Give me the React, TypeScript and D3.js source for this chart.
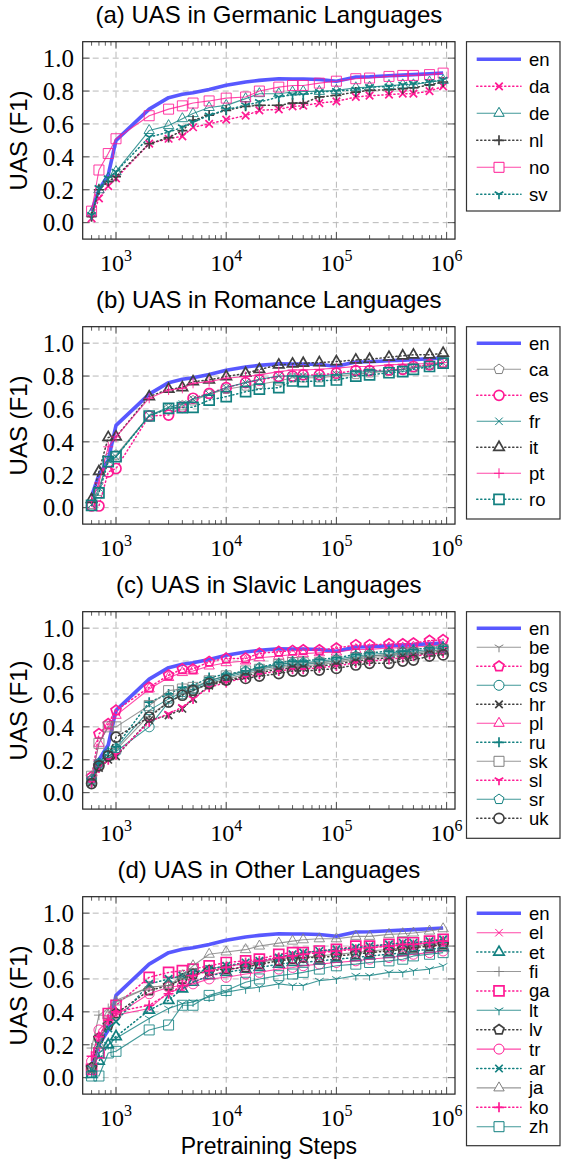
import React from "react";
import * as d3 from "d3";

// ---------- data ----------
const steps = [600, 700, 850, 1000, 2000, 3000, 4000, 5000, 7000, 10000, 15000, 20000, 30000, 40000, 50000, 70000, 100000, 150000, 200000, 300000, 400000, 500000, 700000, 930000];

const en = [0.07, 0.2, 0.29, 0.5, 0.69, 0.76, 0.78, 0.79, 0.81, 0.835, 0.855, 0.865, 0.875, 0.873, 0.873, 0.87, 0.86, 0.885, 0.887, 0.893, 0.897, 0.9, 0.905, 0.91];

// Germanic
const da = [0.026, 0.147, 0.222, 0.269, 0.48, 0.51, 0.525, 0.58, 0.6, 0.626, 0.65, 0.683, 0.689, 0.707, 0.711, 0.727, 0.737, 0.764, 0.772, 0.778, 0.784, 0.784, 0.8, 0.828];
const de = [0.057, 0.2, 0.27, 0.31, 0.56, 0.59, 0.632, 0.663, 0.7, 0.713, 0.754, 0.784, 0.784, 0.794, 0.798, 0.798, 0.804, 0.82, 0.824, 0.834, 0.838, 0.838, 0.855, 0.865];
const nl = [0.036, 0.2, 0.25, 0.28, 0.48, 0.517, 0.56, 0.622, 0.653, 0.683, 0.707, 0.713, 0.713, 0.727, 0.727, 0.764, 0.774, 0.794, 0.804, 0.808, 0.814, 0.82, 0.838, 0.855];
const no = [0.07, 0.32, 0.42, 0.51, 0.65, 0.69, 0.71, 0.727, 0.74, 0.757, 0.764, 0.8, 0.824, 0.834, 0.834, 0.848, 0.86, 0.875, 0.879, 0.889, 0.895, 0.895, 0.9, 0.909];
const sv = [0.046, 0.21, 0.27, 0.31, 0.52, 0.55, 0.58, 0.61, 0.652, 0.687, 0.713, 0.733, 0.764, 0.778, 0.778, 0.794, 0.8, 0.808, 0.824, 0.828, 0.838, 0.844, 0.855, 0.869];

// Romance
const ca = [0.02, 0.1, 0.3, 0.32, 0.56, 0.6, 0.62, 0.65, 0.69, 0.72, 0.74, 0.75, 0.77, 0.79, 0.79, 0.79, 0.8, 0.81, 0.82, 0.83, 0.84, 0.85, 0.87, 0.88];
const es = [0.01, 0.01, 0.217, 0.238, 0.557, 0.563, 0.61, 0.665, 0.695, 0.73, 0.76, 0.776, 0.797, 0.8, 0.807, 0.807, 0.817, 0.833, 0.833, 0.837, 0.841, 0.858, 0.868, 0.882];
const fr = [0.02, 0.12, 0.29, 0.31, 0.56, 0.61, 0.63, 0.66, 0.69, 0.73, 0.76, 0.78, 0.8, 0.8, 0.8, 0.8, 0.81, 0.82, 0.83, 0.83, 0.84, 0.85, 0.86, 0.88];
const it = [0.05, 0.22, 0.427, 0.43, 0.675, 0.72, 0.73, 0.766, 0.776, 0.797, 0.817, 0.84, 0.868, 0.874, 0.878, 0.882, 0.888, 0.898, 0.902, 0.915, 0.923, 0.929, 0.929, 0.939];
const pt = [0.04, 0.15, 0.37, 0.43, 0.665, 0.715, 0.725, 0.756, 0.766, 0.787, 0.797, 0.807, 0.827, 0.837, 0.837, 0.841, 0.848, 0.858, 0.858, 0.868, 0.872, 0.872, 0.878, 0.882];
const ro = [0.014, 0.09, 0.28, 0.31, 0.557, 0.604, 0.608, 0.61, 0.654, 0.675, 0.705, 0.72, 0.73, 0.77, 0.766, 0.77, 0.776, 0.8, 0.807, 0.82, 0.827, 0.841, 0.858, 0.878];

// Slavic
const be = [0.06, 0.16, 0.22, 0.26, 0.47, 0.55, 0.6, 0.62, 0.66, 0.69, 0.72, 0.74, 0.76, 0.77, 0.77, 0.78, 0.79, 0.81, 0.82, 0.83, 0.84, 0.84, 0.85, 0.86];
const bg = [0.096, 0.357, 0.418, 0.5, 0.64, 0.714, 0.751, 0.751, 0.796, 0.816, 0.816, 0.847, 0.857, 0.863, 0.867, 0.867, 0.878, 0.898, 0.898, 0.904, 0.904, 0.908, 0.924, 0.929];
const cs = [0.07, 0.17, 0.22, 0.25, 0.4, 0.55, 0.6, 0.62, 0.67, 0.7, 0.73, 0.75, 0.77, 0.78, 0.78, 0.79, 0.8, 0.82, 0.83, 0.84, 0.845, 0.85, 0.86, 0.87];
const hr = [0.06, 0.15, 0.2, 0.22, 0.44, 0.47, 0.51, 0.57, 0.65, 0.68, 0.71, 0.73, 0.75, 0.76, 0.76, 0.77, 0.78, 0.8, 0.81, 0.82, 0.83, 0.835, 0.85, 0.86];
const pl = [0.08, 0.3, 0.4, 0.47, 0.63, 0.7, 0.73, 0.74, 0.77, 0.79, 0.8, 0.82, 0.83, 0.84, 0.845, 0.85, 0.855, 0.87, 0.87, 0.88, 0.88, 0.885, 0.89, 0.9];
const ru = [0.08, 0.18, 0.25, 0.28, 0.55, 0.6, 0.64, 0.65, 0.7, 0.72, 0.74, 0.76, 0.79, 0.8, 0.8, 0.81, 0.82, 0.84, 0.85, 0.86, 0.86, 0.87, 0.88, 0.89];
const sk = [0.1, 0.3, 0.4, 0.4, 0.53, 0.62, 0.63, 0.64, 0.68, 0.71, 0.74, 0.75, 0.78, 0.79, 0.79, 0.79, 0.8, 0.82, 0.83, 0.84, 0.85, 0.85, 0.86, 0.87];
const sl = [0.06, 0.15, 0.2, 0.23, 0.43, 0.48, 0.52, 0.57, 0.64, 0.67, 0.7, 0.72, 0.74, 0.75, 0.75, 0.76, 0.77, 0.79, 0.8, 0.81, 0.82, 0.83, 0.84, 0.85];
const sr = [0.08, 0.18, 0.24, 0.27, 0.5, 0.57, 0.61, 0.63, 0.68, 0.71, 0.74, 0.76, 0.78, 0.79, 0.79, 0.8, 0.81, 0.83, 0.84, 0.85, 0.855, 0.86, 0.87, 0.88];
const uk = [0.055, 0.163, 0.224, 0.337, 0.46, 0.551, 0.592, 0.622, 0.663, 0.684, 0.694, 0.708, 0.724, 0.739, 0.739, 0.745, 0.755, 0.776, 0.786, 0.786, 0.8, 0.806, 0.83, 0.837];

// Other
const el = [0.04, 0.25, 0.36, 0.38, 0.42, 0.52, 0.54, 0.58, 0.62, 0.65, 0.68, 0.7, 0.73, 0.75, 0.76, 0.77, 0.77, 0.79, 0.79, 0.8, 0.81, 0.81, 0.82, 0.83];
const et = [0.02, 0.1, 0.2, 0.25, 0.41, 0.47, 0.54, 0.58, 0.62, 0.64, 0.66, 0.67, 0.69, 0.7, 0.7, 0.71, 0.72, 0.73, 0.74, 0.75, 0.76, 0.77, 0.78, 0.79];
const fi = [0.18, 0.38, 0.42, 0.47, 0.55, 0.56, 0.6, 0.62, 0.66, 0.68, 0.69, 0.7, 0.72, 0.73, 0.73, 0.74, 0.75, 0.76, 0.77, 0.78, 0.79, 0.8, 0.81, 0.82];
const ga = [0.05, 0.15, 0.39, 0.44, 0.61, 0.64, 0.65, 0.66, 0.68, 0.7, 0.71, 0.72, 0.75, 0.76, 0.76, 0.77, 0.78, 0.8, 0.8, 0.81, 0.82, 0.82, 0.83, 0.84];
const lt = [0.03, 0.15, 0.2, 0.24, 0.36, 0.42, 0.45, 0.46, 0.49, 0.52, 0.54, 0.55, 0.57, 0.56, 0.56, 0.59, 0.6, 0.62, 0.62, 0.64, 0.64, 0.65, 0.66, 0.68];
const lv = [0.06, 0.24, 0.32, 0.39, 0.53, 0.56, 0.6, 0.63, 0.65, 0.66, 0.67, 0.69, 0.71, 0.72, 0.73, 0.73, 0.74, 0.75, 0.76, 0.77, 0.78, 0.79, 0.8, 0.81];
const tr = [0.1, 0.29, 0.35, 0.38, 0.51, 0.55, 0.56, 0.57, 0.6, 0.61, 0.63, 0.64, 0.66, 0.67, 0.68, 0.69, 0.7, 0.71, 0.72, 0.73, 0.74, 0.75, 0.76, 0.77];
const ar = [0.05, 0.2, 0.3, 0.34, 0.57, 0.6, 0.62, 0.64, 0.66, 0.68, 0.7, 0.71, 0.73, 0.75, 0.76, 0.77, 0.78, 0.79, 0.8, 0.81, 0.82, 0.82, 0.83, 0.84];
const ja = [0.05, 0.2, 0.38, 0.46, 0.55, 0.56, 0.62, 0.68, 0.75, 0.764, 0.778, 0.8, 0.818, 0.83, 0.838, 0.844, 0.844, 0.859, 0.859, 0.871, 0.875, 0.879, 0.891, 0.905];
const ko = [0.13, 0.25, 0.35, 0.4, 0.44, 0.51, 0.56, 0.62, 0.65, 0.67, 0.7, 0.71, 0.73, 0.74, 0.75, 0.76, 0.77, 0.78, 0.79, 0.8, 0.81, 0.81, 0.82, 0.83];
const zh = [0.01, 0.01, 0.15, 0.16, 0.29, 0.32, 0.44, 0.44, 0.5, 0.53, 0.58, 0.6, 0.62, 0.63, 0.64, 0.66, 0.68, 0.69, 0.7, 0.71, 0.72, 0.74, 0.75, 0.76];

const panelTitles = [
  "(a) UAS in Germanic Languages",
  "(b) UAS in Romance Languages",
  "(c) UAS in Slavic Languages",
  "(d) UAS in Other Languages",
];
const panelLangs = [
  ["en", "da", "de", "nl", "no", "sv"],
  ["en", "ca", "es", "fr", "it", "pt", "ro"],
  ["en", "be", "bg", "cs", "hr", "pl", "ru", "sk", "sl", "sr", "uk"],
  ["en", "el", "et", "fi", "ga", "lt", "lv", "tr", "ar", "ja", "ko", "zh"],
];
const yTicks = [0, 0.2, 0.4, 0.6, 0.8, 1.0];
const xMajor = [1e3, 1e4, 1e5, 1e6];
const xExp = ["3", "4", "5", "6"];

const values: Record<string, number[]> = {
  en, da, de, nl, no, sv, ca, es, fr, it, pt, ro, be, bg, cs, hr, pl, ru, sk, sl, sr, uk,
  el, et, fi, ga, lt, lv, tr, ar, ja, ko, zh,
};

// ---------- styles ----------
const PINK = "#ff1a94";
const TEAL = "#128080";
const GRAY = "#7f7f7f";
const DARK = "#404040";
const BLUE = "#4f4fff";

type Sty = { color: string; dotted: boolean; marker: string };
const styleOf: Record<string, Sty> = {
  en: { color: BLUE, dotted: false, marker: "none" },
  da: { color: PINK, dotted: true, marker: "x" },
  de: { color: TEAL, dotted: false, marker: "tri" },
  nl: { color: DARK, dotted: true, marker: "plus" },
  no: { color: PINK, dotted: false, marker: "square" },
  sv: { color: TEAL, dotted: true, marker: "y" },
  ca: { color: GRAY, dotted: false, marker: "pent" },
  es: { color: PINK, dotted: true, marker: "circle" },
  fr: { color: TEAL, dotted: false, marker: "x" },
  it: { color: DARK, dotted: true, marker: "tri" },
  pt: { color: PINK, dotted: false, marker: "plus" },
  ro: { color: TEAL, dotted: true, marker: "square" },
  be: { color: GRAY, dotted: false, marker: "y" },
  bg: { color: PINK, dotted: true, marker: "pent" },
  cs: { color: TEAL, dotted: false, marker: "circle" },
  hr: { color: DARK, dotted: true, marker: "x" },
  pl: { color: PINK, dotted: false, marker: "tri" },
  ru: { color: TEAL, dotted: true, marker: "plus" },
  sk: { color: GRAY, dotted: false, marker: "square" },
  sl: { color: PINK, dotted: true, marker: "y" },
  sr: { color: TEAL, dotted: false, marker: "pent" },
  uk: { color: DARK, dotted: true, marker: "circle" },
  el: { color: PINK, dotted: false, marker: "x" },
  et: { color: TEAL, dotted: true, marker: "tri" },
  fi: { color: GRAY, dotted: false, marker: "plus" },
  ga: { color: PINK, dotted: true, marker: "square" },
  lt: { color: TEAL, dotted: false, marker: "y" },
  lv: { color: DARK, dotted: true, marker: "pent" },
  tr: { color: PINK, dotted: false, marker: "circle" },
  ar: { color: TEAL, dotted: true, marker: "x" },
  ja: { color: GRAY, dotted: false, marker: "tri" },
  ko: { color: PINK, dotted: true, marker: "plus" },
  zh: { color: TEAL, dotted: false, marker: "square" },
};

// ---------- layout ----------
const W = 561;
const H = 1162;
const plotLeft = 82.7;
const plotRight = 455;
const plotH = 197.4;
const panelTop = [41.7, 326.7, 611.7, 896.7];
const legendLeft = 466.5;
const legendRight = 560;
const legendFirst = [17.6, 16.6, 16.6, 16.6];
const legendGap = [27, 26, 19, 19.4];
const legendPadBottom = [16.7, 19.7, 20, 19];
const SANS = "'Liberation Sans', Arial, sans-serif";
const SERIF = "'Liberation Serif', 'Times New Roman', serif";
const MR = 5;

function markerPath(kind: string, r: number): string {
  switch (kind) {
    case "square":
      return `M${-r},${-r}H${r}V${r}H${-r}Z`;
    case "circle":
      return `M${r},0A${r},${r} 0 1 1 ${-r},0A${r},${r} 0 1 1 ${r},0Z`;
    case "tri": {
      const R = r * 1.2;
      const c = Math.cos(Math.PI / 6) * R;
      return `M0,${-R}L${c},${R / 2}L${-c},${R / 2}Z`;
    }
    case "pent": {
      const R = r * 1.05;
      const pts = d3.range(5).map((i) => {
        const a = -Math.PI / 2 + (i * 2 * Math.PI) / 5;
        return [R * Math.cos(a), R * Math.sin(a)];
      });
      return "M" + pts.map((p) => p.join(",")).join("L") + "Z";
    }
    case "x": {
      const a = r * 0.75;
      return `M${-a},${-a}L${a},${a}M${-a},${a}L${a},${-a}`;
    }
    case "plus":
      return `M${-r},0H${r}M0,${-r}V${r}`;
    case "y": {
      const a1 = (-150 * Math.PI) / 180;
      const a2 = (-30 * Math.PI) / 180;
      return `M0,0L${r * Math.cos(a1)},${r * Math.sin(a1)}M0,0L${r * Math.cos(a2)},${r * Math.sin(a2)}M0,0L0,${r}`;
    }
    default:
      return "";
  }
}

function Panel({ idx }: { idx: number }) {
  const top = panelTop[idx];
  const bottom = top + plotH;
  const x = d3.scaleLog().domain([498.5, 1192000]).range([plotLeft, plotRight]);
  const y = d3.scaleLinear().domain([-0.1, 1.1]).range([bottom, top]);
  const langs = panelLangs[idx];

  const minor: number[] = [];
  for (let k = 2; k <= 6; k++) {
    for (let m = 2; m <= 9; m++) {
      const v = m * Math.pow(10, k);
      if (v > 500 && v < 1190000) minor.push(v);
    }
  }

  const line = d3
    .line<number>()
    .x((_, i) => x(steps[i]))
    .y((d) => y(d));

  const nRows = langs.length;
  const legBottom = top + legendFirst[idx] + (nRows - 1) * legendGap[idx] + legendPadBottom[idx];

  return (
    <g>
      <text
        x={(plotLeft + plotRight) / 2}
        y={top - 19}
        textAnchor="middle"
        fontFamily={SANS}
        fontSize={24}
        fill="#000"
      >
        {panelTitles[idx]}
      </text>
      {/* grid */}
      {xMajor.map((v) => (
        <line key={"gx" + v} x1={x(v)} x2={x(v)} y1={top} y2={bottom} stroke="#b8b8b8" strokeWidth={1} strokeDasharray="6,4" />
      ))}
      {yTicks.map((v) => (
        <line key={"gy" + v} x1={plotLeft} x2={plotRight} y1={y(v)} y2={y(v)} stroke="#b8b8b8" strokeWidth={1} strokeDasharray="6,4" />
      ))}
      {/* ticks */}
      {minor.map((v) => (
        <g key={"mt" + v}>
          <line x1={x(v)} x2={x(v)} y1={bottom} y2={bottom - 4} stroke="#333" strokeWidth={0.8} />
          <line x1={x(v)} x2={x(v)} y1={top} y2={top + 4} stroke="#333" strokeWidth={0.8} />
        </g>
      ))}
      {xMajor.map((v) => (
        <g key={"Mt" + v}>
          <line x1={x(v)} x2={x(v)} y1={bottom} y2={bottom - 7} stroke="#333" strokeWidth={0.8} />
          <line x1={x(v)} x2={x(v)} y1={top} y2={top + 7} stroke="#333" strokeWidth={0.8} />
        </g>
      ))}
      {yTicks.map((v) => (
        <g key={"yt" + v}>
          <line x1={plotLeft} x2={plotLeft + 7} y1={y(v)} y2={y(v)} stroke="#333" strokeWidth={0.8} />
          <line x1={plotRight} x2={plotRight - 7} y1={y(v)} y2={y(v)} stroke="#333" strokeWidth={0.8} />
        </g>
      ))}
      {/* series */}
      {langs.map((lang) => {
        const s = styleOf[lang];
        const vals = values[lang];
        const isEn = lang === "en";
        return (
          <g key={lang}>
            <path
              d={line(vals) || ""}
              fill="none"
              stroke={s.color}
              strokeWidth={isEn ? 3.6 : s.dotted ? 1.5 : 1.1}
              strokeOpacity={isEn ? 0.95 : s.dotted ? 1 : 0.8}
              strokeDasharray={s.dotted ? "1.2,2.8" : undefined}
              strokeLinecap={s.dotted ? "round" : "butt"}
              strokeLinejoin="round"
            />
            {!isEn &&
              vals.map((v, i) => (
                <path
                  key={i}
                  transform={`translate(${x(steps[i])},${y(v)})`}
                  d={markerPath(s.marker, MR)}
                  fill="none"
                  stroke={s.color}
                  strokeWidth={s.dotted ? 1.7 : 1}
                  strokeOpacity={s.dotted ? 1 : 0.85}
                />
              ))}
          </g>
        );
      })}
      {/* frame */}
      <rect x={plotLeft} y={top} width={plotRight - plotLeft} height={plotH} fill="none" stroke="#222" strokeWidth={1.2} />
      {/* y tick labels */}
      {yTicks.map((v) => (
        <text key={"yl" + v} x={74} y={y(v)} dy="0.35em" textAnchor="end" fontFamily={SERIF} fontSize={25} fill="#000">
          {v.toFixed(1)}
        </text>
      ))}
      {/* x tick labels */}
      {xMajor.map((v, i) => (
        <text key={"xl" + v} x={x(v)} y={bottom + 32} textAnchor="middle" fontFamily={SERIF} fontSize={24} fill="#000">
          10
          <tspan dy={-10} fontSize={16}>
            {xExp[i]}
          </tspan>
        </text>
      ))}
      {/* y label */}
      <text
        transform={`translate(27,${(top + bottom) / 2}) rotate(-90)`}
        textAnchor="middle"
        fontFamily={SANS}
        fontSize={24}
        fill="#000"
      >
        UAS (F1)
      </text>
      {/* legend */}
      <rect x={legendLeft} y={top} width={legendRight - legendLeft} height={legBottom - top} fill="#fff" stroke="#333" strokeWidth={1.2} />
      {langs.map((lang, i) => {
        const s = styleOf[lang];
        const cy = top + legendFirst[idx] + i * legendGap[idx];
        const isEn = lang === "en";
        return (
          <g key={"lg" + lang}>
            <line
              x1={476.7}
              x2={521}
              y1={cy}
              y2={cy}
              stroke={s.color}
              strokeWidth={isEn ? 3.6 : s.dotted ? 1.5 : 1.1}
              strokeOpacity={isEn ? 0.95 : s.dotted ? 1 : 0.8}
              strokeDasharray={s.dotted ? "1.2,2.8" : undefined}
              strokeLinecap={s.dotted ? "round" : "butt"}
            />
            {!isEn && (
              <path
                transform={`translate(499,${cy})`}
                d={markerPath(s.marker, MR)}
                fill="#fff"
                stroke={s.color}
                strokeWidth={s.dotted ? 1.7 : 1}
              />
            )}
            <text x={529} y={cy} dy="0.35em" fontFamily={SANS} fontSize={18.5} fill="#000">
              {lang}
            </text>
          </g>
        );
      })}
      {idx === 3 && (
        <text x={(plotLeft + plotRight) / 2} y={1154} textAnchor="middle" fontFamily={SANS} fontSize={23} fill="#000">
          Pretraining Steps
        </text>
      )}
    </g>
  );
}

export default function App() {
  return (
    <svg
      width={W}
      height={H}
      viewBox={`0 0 ${W} ${H}`}
      style={{ position: "absolute", left: 0, top: 0, background: "#fff" }}
    >
      <rect x={0} y={0} width={W} height={H} fill="#fff" />
      {[0, 1, 2, 3].map((i) => (
        <Panel key={i} idx={i} />
      ))}
    </svg>
  );
}
